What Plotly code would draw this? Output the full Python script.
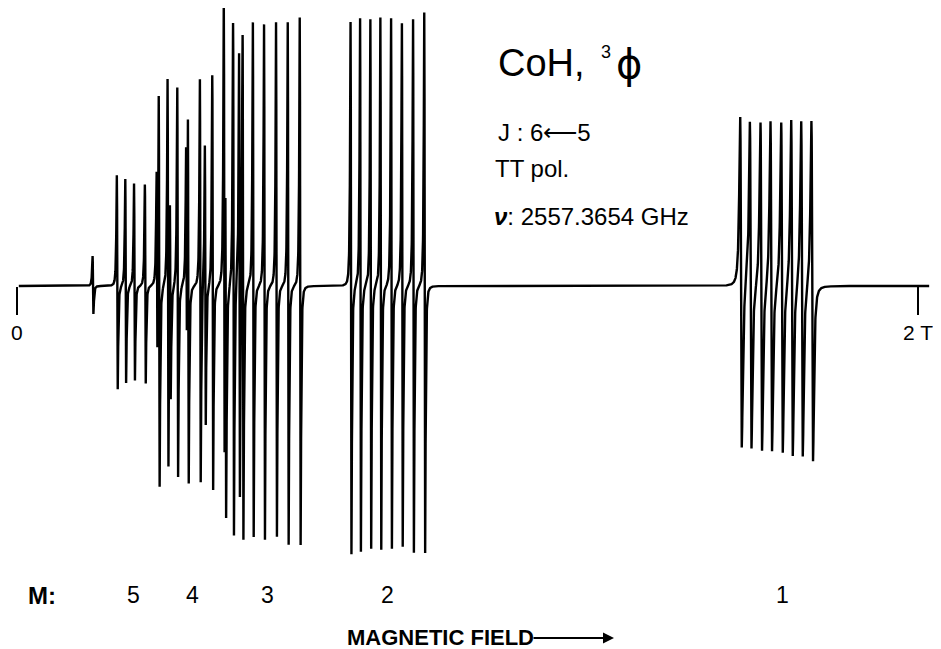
import numpy as np
import plotly.graph_objects as go

# page body keeps an 8 px margin, so the figure is drawn 8 px smaller and shifted
OFF = 8
W, H = 941 - OFF, 649 - OFF

# ---------------- data ----------------
# resonance centre fields (T) and their upward / downward excursions (arb. units)
extra_field = [0.1687]
extra_up = [30]
extra_down = [28]

m5_field = [0.2226, 0.2413, 0.2608, 0.2848, 0.3108, 0.3403, 0.3763]
m5_up = [111, 107, 103, 102, 103, 106, 121]
m5_down = [104, 97, 95, 98, 93, 104, 97]

m4_field = [0.3156, 0.3352, 0.3567, 0.3802, 0.4069, 0.4180, 0.4344]
m4_up = [206, 203, 199, 195, 206, 143, 212]
m4_down = [197, 196, 191, 190, 198, 139, 205]

m3_field = [0.4600, 0.4634, 0.4806, 0.4939, 0.5017, 0.5245, 0.5494, 0.5760, 0.6020, 0.6286]
m3_up = [267, 180, 264, 230, 259, 264, 263, 265, 265, 270]
m3_down = [238, 205, 252, 219, 250, 251, 255, 252, 260, 260]

m2_field = [0.7414, 0.7625, 0.7853, 0.8076, 0.8313, 0.8553, 0.8801, 0.9050]
m2_up = [265, 268, 267, 270, 268, 263, 267, 275]
m2_down = [270, 266, 263, 265, 263, 261, 267, 268]

m1_field = [1.6071, 1.6286, 1.6521, 1.6743, 1.6981, 1.7203, 1.7425, 1.7652]
m1_up = [168, 165, 164, 166, 164, 167, 166, 167]
m1_down = [164, 163, 166, 166, 168, 171, 171, 174]

m_labels = ["5", "4", "3", "2", "1"]
m_label_field = [0.2597, 0.3885, 0.5571, 0.8235, 1.7003]

tick_field = [0, 2]
tick_text = ["0", "2 T"]

# ---------------- build the recorded trace (derivative line shapes) ----------------
field = np.arange(0.004, 2.025, 0.0002)
signal = np.zeros_like(field)
NORM = 3 * np.sqrt(3) / 8  # extremum of the derivative-Lorentzian


def add_lines(centres, ups, downs, half_width):
    global signal
    for c, a, b in zip(centres, ups, downs):
        u = (field - c) / half_width
        f = -2 * u / (1 + u ** 2) ** 2 / NORM
        signal = signal + np.where(f > 0, f * a, f * b)


narrow = 0.0016
add_lines(extra_field, extra_up, extra_down, narrow)
add_lines(m5_field, m5_up, m5_down, narrow)
add_lines(m4_field, m4_up, m4_down, narrow)
add_lines(m3_field, m3_up, m3_down, narrow)
add_lines(m2_field, m2_up, m2_down, narrow)
add_lines(m1_field, m1_up, m1_down, 0.0031)

fig = go.Figure()
fig.add_trace(go.Scatter(x=field, y=signal, mode="lines",
                         line=dict(color="black", width=2.4),
                         hoverinfo="skip", showlegend=False))

# ---------------- layout (reference pixel positions converted to figure space) ----------------
PX_PER_T = 450.5
X0_PX = 17 - OFF
BASE_PX = 286 - OFF
x_range = [-X0_PX / PX_PER_T, (W - X0_PX) / PX_PER_T]
y_range = [-(H - BASE_PX), BASE_PX]

SANS = "Liberation Sans, Arial, Helvetica, sans-serif"


def px(xp):
    return (xp - OFF) / W


def py(yp):
    return 1 - (yp - OFF) / H


annotations = []
# field marker labels
for f, t in zip(tick_field, tick_text):
    annotations.append(dict(x=f, y=py(333), xref="x", yref="paper", text=t,
                            showarrow=False, xanchor="center", yanchor="middle",
                            font=dict(family=SANS, size=21, color="black")))
# M labels
M_ROW = 595
annotations.append(dict(x=px(42), y=py(M_ROW), xref="paper", yref="paper", text="<b>M:</b>",
                        showarrow=False, xanchor="center", yanchor="middle",
                        font=dict(family=SANS, size=24, color="black")))
for f, t in zip(m_label_field, m_labels):
    annotations.append(dict(x=f, y=py(M_ROW), xref="x", yref="paper", text=t,
                            showarrow=False, xanchor="center", yanchor="middle",
                            font=dict(family=SANS, size=23, color="black")))
# axis caption with arrow
annotations.append(dict(x=px(345), y=py(637), xref="paper", yref="paper",
                        text="<b>MAGNETIC FIELD</b>", showarrow=False,
                        xanchor="left", yanchor="middle",
                        font=dict(family=SANS, size=22, color="black")))
annotations.append(dict(x=px(614), y=py(638), xref="paper", yref="paper", text="",
                        showarrow=True, ax=-82, ay=0, arrowhead=2, arrowsize=1,
                        arrowwidth=2.2, arrowcolor="black"))
# title block
annotations.append(dict(x=px(496), y=py(63), xref="paper", yref="paper", text="CoH,",
                        showarrow=False, xanchor="left", yanchor="middle",
                        font=dict(family=SANS, size=38, color="black")))
annotations.append(dict(x=px(606), y=py(52), xref="paper", yref="paper", text="3",
                        showarrow=False, xanchor="center", yanchor="middle",
                        font=dict(family=SANS, size=18, color="black")))
annotations.append(dict(x=px(629), y=py(64), xref="paper", yref="paper", text="ϕ",
                        showarrow=False, xanchor="center", yanchor="middle",
                        font=dict(family="DejaVu Sans, sans-serif", size=40, color="black")))
annotations.append(dict(x=px(496), y=py(132), xref="paper", yref="paper", text="J : 6⟵5",
                        showarrow=False, xanchor="left", yanchor="middle",
                        font=dict(family=SANS, size=24, color="black")))
annotations.append(dict(x=px(493), y=py(168), xref="paper", yref="paper", text="TT pol.",
                        showarrow=False, xanchor="left", yanchor="middle",
                        font=dict(family=SANS, size=24, color="black")))
annotations.append(dict(x=px(492), y=py(217), xref="paper", yref="paper",
                        text="<b><i>ν</i></b>: 2557.3654 GHz",
                        showarrow=False, xanchor="left", yanchor="middle",
                        font=dict(family=SANS, size=24, color="black")))

fig.update_layout(
    width=W, height=H,
    margin=dict(l=0, r=0, t=0, b=0, pad=0),
    paper_bgcolor="white", plot_bgcolor="white",
    showlegend=False,
    xaxis=dict(range=x_range, showgrid=False, zeroline=False, showline=False,
               tickvals=tick_field, showticklabels=False, ticks="outside",
               ticklen=28, tickwidth=1.5, tickcolor="black",
               anchor="free", position=(H - BASE_PX) / H, automargin=False,
               fixedrange=True),
    yaxis=dict(range=y_range, visible=False, showgrid=False, zeroline=False,
               automargin=False, fixedrange=True),
    annotations=annotations,
)

fig.write_html("out.html")
